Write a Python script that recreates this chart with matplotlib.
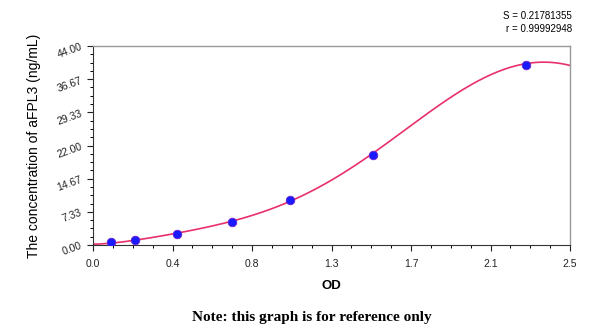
import matplotlib
matplotlib.use('Agg')
import matplotlib.pyplot as plt
import numpy as np
from matplotlib.ticker import AutoMinorLocator, FixedLocator

plt.rcParams['font.family'] = ['Liberation Sans', 'DejaVu Sans']

# standard points
od = [0.094, 0.22, 0.44, 0.73, 1.03, 1.47, 2.27]
conc = [0.66, 1.1, 2.4, 5.1, 10.0, 19.9, 39.8]

# trace of the fitted curve
curve_od = [0.0, 0.094, 0.22, 0.44, 0.73, 1.03, 1.25, 1.469, 1.626, 1.714, 1.801, 1.888,
            1.976, 2.063, 2.150, 2.273, 2.360, 2.448, 2.5]
curve_conc = [0.0, 0.66, 1.15, 2.4, 5.1, 10.0, 14.6, 19.9, 24.9, 27.7, 30.6, 33.3,
              35.5, 37.4, 38.8, 39.8, 40.3, 40.2, 39.8]

x_ticks = [0.0, 2.5 / 6, 2.5 * 2 / 6, 1.25, 2.5 * 4 / 6, 2.5 * 5 / 6, 2.5]
x_labels = ['0.0', '0.4', '0.8', '1.3', '1.7', '2.1', '2.5']
y_ticks = [0.0, 44 / 6, 44 * 2 / 6, 22.0, 44 * 4 / 6, 44 * 5 / 6, 44.0]
y_labels = ['0.00', '7.33', '14.67', '22.00', '29.33', '36.67', '44.00']

# smooth the traced curve
coef = np.polyfit(curve_od, curve_conc, 6)
xs = np.linspace(0, 2.5, 300)
ys = np.polyval(coef, xs)

fig = plt.figure(figsize=(6, 3.29), dpi=100)
ax = fig.add_axes([93 / 600, 1 - 245 / 329, 477 / 600, 199 / 329])

ax.plot(xs, ys, color='#e8306a', lw=1.2, zorder=2)
ax.scatter(od, conc, s=38, color='#1a1aff', edgecolors='#6a20d0', linewidths=0.6, zorder=3)

ax.set_xlim(0, 2.5)
ax.set_ylim(0, 44)
ax.xaxis.set_major_locator(FixedLocator(x_ticks))
ax.set_xticklabels(x_labels)
ax.yaxis.set_major_locator(FixedLocator(y_ticks))
ax.set_yticklabels(y_labels, rotation=20)
ax.xaxis.set_minor_locator(AutoMinorLocator(4))
ax.yaxis.set_minor_locator(AutoMinorLocator(4))
ax.tick_params(axis='both', which='major', length=4, width=0.8, labelsize=7.5, colors='#222222')
ax.tick_params(axis='both', which='minor', length=2.5, width=0.7)
ax.tick_params(axis='x', pad=6)
ax.tick_params(axis='y', pad=3)

for side in ['top', 'right']:
    ax.spines[side].set_color('#999999')
    ax.spines[side].set_linewidth(1.0)
for side in ['left', 'bottom']:
    ax.spines[side].set_color('#333333')
    ax.spines[side].set_linewidth(0.8)

ax.set_xlabel('OD', fontsize=9.5, fontweight='bold', labelpad=8)
ax.set_ylabel('The concentration of aFPL3 (ng/mL)', fontsize=10, labelpad=10)

fig.text(572 / 600, 1 - 16 / 329, 'S = 0.21781355', ha='right', va='center', fontsize=7)
fig.text(572 / 600, 1 - 29 / 329, 'r = 0.99992948', ha='right', va='center', fontsize=7)
fig.text(312 / 600, 1 - 318 / 329, 'Note: this graph is for reference only', ha='center', va='center',
         fontsize=11, fontweight='bold', family='Liberation Serif')

fig.savefig('out.png', dpi=100)
